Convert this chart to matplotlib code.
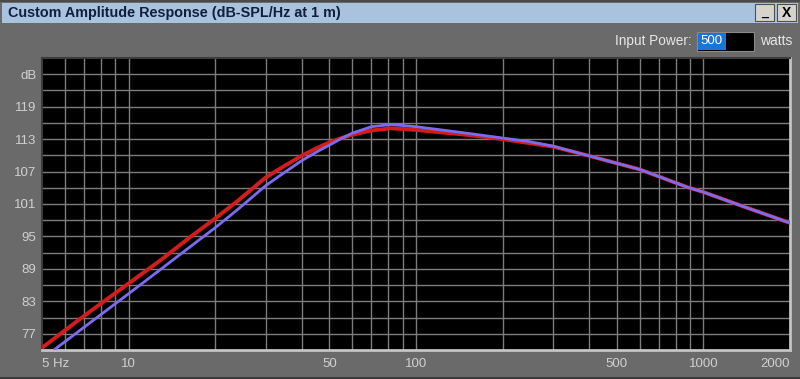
import matplotlib.pyplot as plt
from matplotlib.patches import Rectangle

# values
freq_red = [5, 7, 10, 13, 16.3, 20, 24, 30, 35, 40, 45, 50, 55, 60, 70, 82, 100, 150, 200, 300, 400, 600, 880, 1000, 1400, 2000]
spl_red = [74.4, 80.3, 86.3, 90.7, 94.8, 98.3, 101.6, 105.9, 108.1, 109.9, 111.3, 112.4, 113.2, 113.8, 114.6, 115.0, 114.7, 113.8, 113.0, 111.6, 109.9, 107.4, 104.1, 103.2, 100.4, 97.5]
freq_blue = [5.5, 7, 10, 13, 16.3, 20, 24, 30, 35, 40, 45, 50, 55, 60, 70, 82, 100, 150, 200, 244, 300, 400, 600, 880, 1000, 1400, 2000]
spl_blue = [74.0, 78.2, 84.4, 89.0, 93.0, 96.6, 100.0, 104.4, 106.9, 109.0, 110.6, 111.9, 113.1, 114.1, 115.3, 115.7, 115.3, 114.1, 113.2, 112.6, 111.7, 109.9, 107.4, 104.1, 103.2, 100.4, 97.5]

xticks = [5, 10, 50, 100, 500, 1000, 2000]
xticklabels = ['5 Hz', '10', '50', '100', '500', '1000', '2000']
xgrid = [6, 7, 8, 9, 10, 20, 30, 40, 50, 60, 70, 80, 90, 100,
         200, 300, 400, 500, 600, 700, 800, 900, 1000]
yticks = [77, 83, 89, 95, 101, 107, 113, 119, 125]
yticklabels = ['77', '83', '89', '95', '101', '107', '113', '119', 'dB']
ygrid = list(range(77, 128, 3))

plt.rcParams['font.family'] = ['Liberation Sans', 'DejaVu Sans']

fig = plt.figure(figsize=(8, 3.79), dpi=100)
fig.patch.set_facecolor('#6a6a6a')

W, H = 800, 379


def px(x0, y0, w, h):
    # pixel box (top-left origin) -> figure fraction
    return (x0 / W, 1 - (y0 + h) / H, w / W, h / H)


def box(x0, y0, w, h, fc, ec='none', lw=0):
    l, b, ww, hh = px(x0, y0, w, h)
    fig.patches.append(Rectangle((l, b), ww, hh, transform=fig.transFigure,
                                 facecolor=fc, edgecolor=ec, linewidth=lw))


# window frame and title bar
box(0, 0, 800, 2, '#4a4a4a')
box(0, 377, 800, 2, '#3a3a3a')
box(2, 3, 796, 20, '#a9c3df')
box(755, 4, 19, 17, '#d6d3cc', '#505050', 0.8)
box(777, 4, 19, 17, '#d6d3cc', '#505050', 0.8)
fig.text(8 / W, 1 - 13 / H, 'Custom Amplitude Response (dB-SPL/Hz at 1 m)',
         fontsize=10.4, fontweight='bold', color='#10203a', va='center')
fig.text(764.5 / W, 1 - 13 / H, '_', fontsize=9, fontweight='bold',
         color='black', ha='center', va='center')
fig.text(786.5 / W, 1 - 13 / H, 'X', fontsize=10, fontweight='bold',
         color='black', ha='center', va='center')

# input power field
fig.text(692 / W, 1 - 41 / H, 'Input Power:', fontsize=9.8, color='#e6e6e6',
         ha='right', va='center')
box(697, 32, 57, 19, '#000000', '#8a8a8a', 0.8)
box(698, 33, 28, 17, '#1c74d4')
fig.text(700 / W, 1 - 41.5 / H, '500', fontsize=9.5, color='white', va='center')
fig.text(760 / W, 1 - 41 / H, 'watts', fontsize=10, color='#e6e6e6', va='center')

ax = fig.add_axes([42 / W, 29 / H, 748 / W, 292 / H])
ax.set_facecolor('black')
ax.set_xscale('log')
ax.set_xlim(5, 2000)
ax.set_ylim(74, 128)

for g in xgrid:
    ax.axvline(g, color='#7c7c7c', lw=1, zorder=1)
for g in ygrid:
    ax.axhline(g, color='#7c7c7c', lw=1, zorder=1)

ax.plot(freq_red, spl_red, color='#d41c1c', lw=2.8, zorder=3, solid_capstyle='butt')
ax.plot(freq_blue, spl_blue, color='#7a6cf2', lw=2.0, zorder=4, solid_capstyle='butt')

ax.set_xticks(xticks)
ax.set_xticklabels(xticklabels)
ax.xaxis.set_minor_locator(plt.NullLocator())
ax.set_yticks(yticks)
ax.set_yticklabels(yticklabels)
ax.tick_params(axis='both', length=0, colors='#d0d0d0', labelsize=9.5)
ax.tick_params(axis='x', pad=6)
ax.tick_params(axis='y', pad=4)
labels = ax.get_xticklabels()
labels[0].set_ha('left')
labels[-1].set_ha('right')

for s in ['left', 'top']:
    ax.spines[s].set_color('#3c3c3c')
    ax.spines[s].set_linewidth(1.5)
for s in ['right', 'bottom']:
    ax.spines[s].set_color('#c4c4c4')
    ax.spines[s].set_linewidth(2)

fig.savefig('out.png', dpi=100, facecolor=fig.get_facecolor())
